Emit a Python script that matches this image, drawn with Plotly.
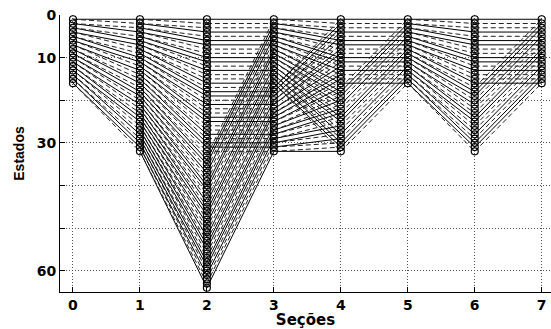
import plotly.graph_objects as go

# Trellis data
sections = [0, 1, 2, 3, 4, 5, 6, 7]
num_states = [16, 32, 64, 32, 32, 16, 32, 16]
# connection type between consecutive sections
transitions = ["expand", "expand", "fold", "shuffle", "fold", "expand", "fold"]
x_tick_vals = [0, 1, 2, 3, 4, 5, 6, 7]
y_tick_vals = [0, 10, 20, 30, 40, 50, 60]
y_tick_text = ["0", "10", "", "30", "", "", "60"]


def parity(v):
    return bin(v).count("1") % 2


def edges(kind, n_from, n_to):
    out = []
    for s in range(n_from):
        if kind == "expand":
            for b in (0, 1):
                out.append((s, 2 * s + b, parity(s) ^ b))
        elif kind == "shuffle":
            for b in (0, 1):
                out.append((s, (2 * s + b) % n_to, parity(s) ^ b))
        elif kind == "fold":
            out.append((s, s % n_to, parity(s)))
    return out


solid_x, solid_y, dash_x, dash_y = [], [], [], []
for i, kind in enumerate(transitions):
    for s, t, style in edges(kind, num_states[i], num_states[i + 1]):
        xs, ys = (solid_x, solid_y) if style == 0 else (dash_x, dash_y)
        xs += [sections[i], sections[i + 1], None]
        ys += [s + 1, t + 1, None]

fig = go.Figure()
fig.add_trace(go.Scatter(x=solid_x, y=solid_y, mode="lines",
                         line=dict(color="black", width=1), hoverinfo="skip"))
fig.add_trace(go.Scatter(x=dash_x, y=dash_y, mode="lines",
                         line=dict(color="#222222", width=1, dash="5px,3px"), hoverinfo="skip"))

mx, my = [], []
for sec, n in zip(sections, num_states):
    for s in range(n):
        mx.append(sec)
        my.append(s + 1)
fig.add_trace(go.Scatter(x=mx, y=my, mode="markers",
                         marker=dict(symbol="circle-open", size=7, color="black",
                                     line=dict(width=1.2, color="black"))))

tick_font = "DejaVu Sans, sans-serif"
axis_common = dict(
    showline=True, linecolor="black", linewidth=1,
    ticks="inside", ticklen=5, tickcolor="black", tickwidth=1,
    showgrid=True, gridcolor="#555555", griddash="1px,2px", gridwidth=1,
    zeroline=False, mirror=False, automargin=False, ticklabeloverflow="allow",
    tickfont=dict(family=tick_font, size=14, color="black", weight="bold"),
)

fig.update_layout(
    width=551, height=329,
    margin=dict(l=60, r=0, t=15, b=37),
    plot_bgcolor="white", paper_bgcolor="white",
    showlegend=False,
    xaxis=dict(range=[-0.194, 7.139], tickvals=x_tick_vals,
               title=dict(text="<b>Seções</b>", standoff=0,
                          font=dict(family=tick_font, size=15, color="black")),
               **axis_common),
    yaxis=dict(range=[65, 0], tickvals=y_tick_vals, ticktext=y_tick_text,
               title=dict(text="<b>Estados</b>", standoff=8,
                          font=dict(family="Liberation Sans, Arial, sans-serif", size=14, color="black")),
               **axis_common),
)

fig.write_html("out.html", config={"displayModeBar": False},
               post_script="document.body.style.margin='0px';")
